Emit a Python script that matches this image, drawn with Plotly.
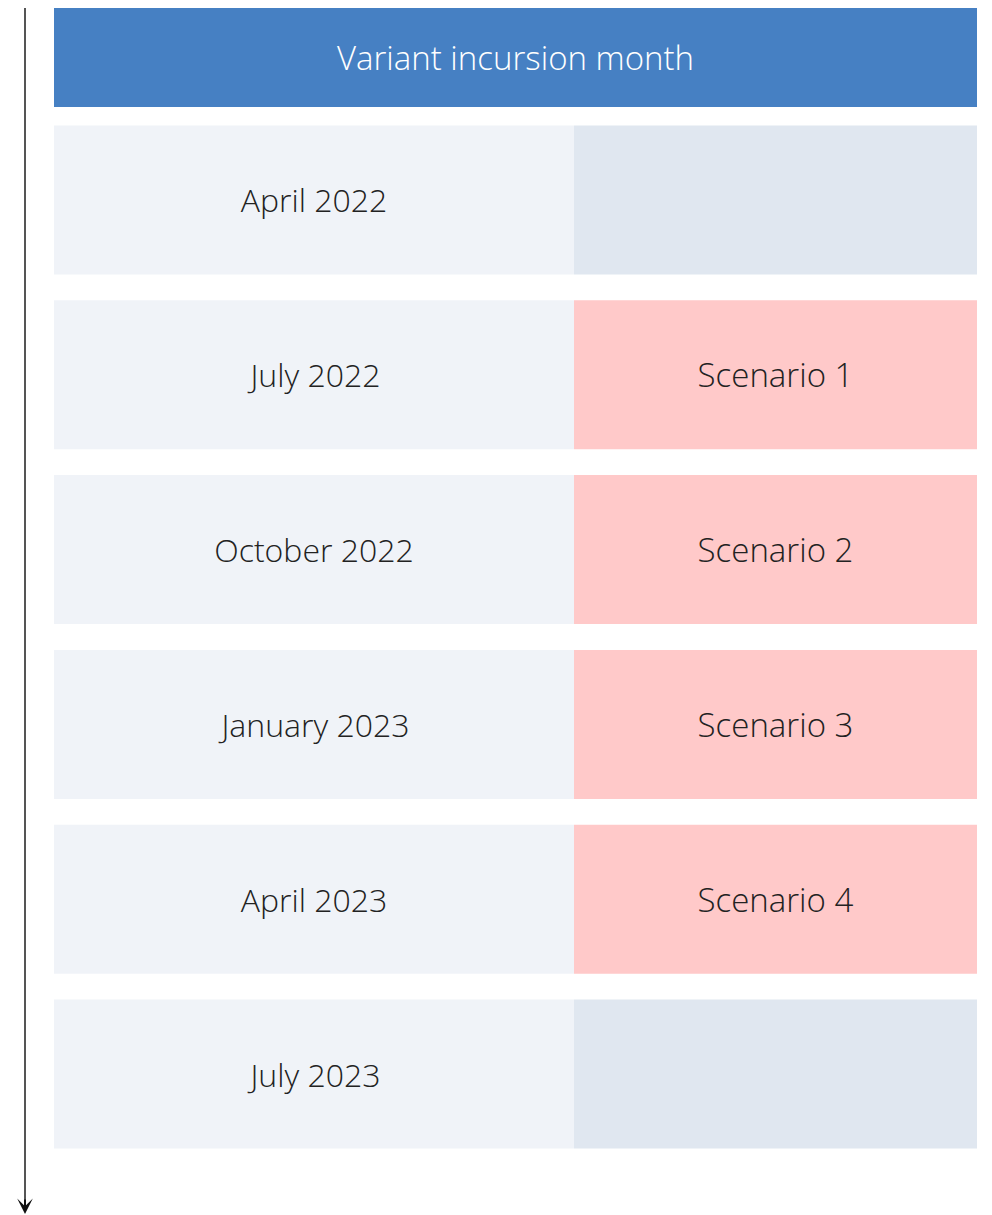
import plotly.graph_objects as go

# ---- data ----
header_label = "Variant incursion month"
months = ["April 2022", "July 2022", "October 2022", "January 2023", "April 2023", "July 2023"]
scenarios = ["", "Scenario 1", "Scenario 2", "Scenario 3", "Scenario 4", ""]

# ---- layout constants (page body has an 8px margin) ----
OFF = 8
W, H = 992 - OFF, 1215 - OFF
LEFT_X0 = 54 - OFF
LEFT_W = 520
RIGHT_W = 403
HEADER_TOP, HEADER_BOT = 3 - OFF, 107 - OFF
ROWS_TOP, ROWS_BOT = 112.5 - OFF, 1161.5 - OFF
BARGAP = 0.148
ARROW_X = 25 - OFF

C_HEADER = "#4680C3"
C_LEFT = "#F0F3F8"
C_GRAY = "#E0E7F0"
C_PINK = "#FFC9C9"
C_TEXT = "#222222"
FONT = "Open Sans"
FS_MONTH = 32
FS_SCEN = 33
FS_HEAD = 33


def pf(px):
    return (H - px) / H


rows = list(range(len(months)))
right_colors = [C_PINK if s else C_GRAY for s in scenarios]

fig = go.Figure()

fig.add_trace(go.Bar(
    orientation="h", y=[0], x=[LEFT_W + RIGHT_W], base=[LEFT_X0], width=[1],
    marker=dict(color=C_HEADER, line=dict(width=0)),
    text=[header_label], textposition="inside", insidetextanchor="middle",
    constraintext="none", textangle=0,
    textfont=dict(family=FONT, size=FS_HEAD, color="white", weight=300),
    xaxis="x", yaxis="y", hoverinfo="skip", showlegend=False,
))

fig.add_trace(go.Bar(
    orientation="h", y=rows, x=[LEFT_W] * len(rows), base=[LEFT_X0] * len(rows),
    marker=dict(color=C_LEFT, line=dict(width=0)),
    text=months, textposition="inside", insidetextanchor="middle",
    constraintext="none", textangle=0,
    textfont=dict(family=FONT, size=FS_MONTH, color=C_TEXT, weight=300),
    xaxis="x", yaxis="y2", hoverinfo="skip", showlegend=False,
))

fig.add_trace(go.Bar(
    orientation="h", y=rows, x=[RIGHT_W] * len(rows), base=[LEFT_X0 + LEFT_W] * len(rows),
    marker=dict(color=right_colors, line=dict(width=0)),
    text=scenarios, textposition="inside", insidetextanchor="middle",
    constraintext="none", textangle=0,
    textfont=dict(family=FONT, size=FS_SCEN, color=C_TEXT, weight=300),
    xaxis="x", yaxis="y2", hoverinfo="skip", showlegend=False,
))

axis_off = dict(showgrid=False, zeroline=False, showticklabels=False, showline=False, ticks="")

fig.update_layout(
    width=W, height=H, margin=dict(l=0, r=0, t=0, b=0),
    paper_bgcolor="white", plot_bgcolor="white",
    barmode="overlay", bargap=BARGAP,
    xaxis=dict(range=[0, W], domain=[0, 1], fixedrange=True, **axis_off),
    yaxis=dict(range=[0.5, -0.5], domain=[pf(HEADER_BOT), min(1, pf(HEADER_TOP))], fixedrange=True, **axis_off),
    yaxis2=dict(range=[len(rows) - 0.5, -0.5], domain=[pf(ROWS_BOT), pf(ROWS_TOP)], fixedrange=True, **axis_off),
)

# timeline arrow
fig.add_shape(type="line", xref="x", yref="paper", x0=ARROW_X, x1=ARROW_X, y0=1, y1=pf(1204 - OFF),
              line=dict(color="#555555", width=2))
fig.add_annotation(xref="x", yref="paper", x=ARROW_X, y=pf(1214 - OFF), ax=0, ay=-16,
                   axref="pixel", ayref="pixel", showarrow=True, arrowhead=3,
                   arrowsize=1.3, arrowwidth=2, arrowcolor="#111111", text="", standoff=0)

fig.write_html("out.html")
